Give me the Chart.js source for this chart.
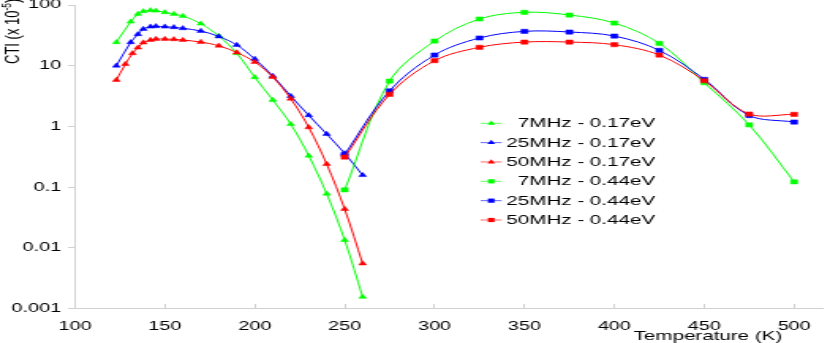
<!DOCTYPE html>
<html><head><meta charset="utf-8">
<script src="https://cdn.jsdelivr.net/npm/chart.js@4.4.1/dist/chart.umd.min.js"></script>
<style>
html,body{margin:0;padding:0;background:#fff;overflow:hidden;}
#wrap{width:525px;height:343px;transform:scaleX(1.580952);transform-origin:0 0;}
canvas{display:block;}
</style></head><body>
<div id="wrap"><canvas id="c" width="525" height="343"></canvas></div>
<script>
// ---- data ----
const tempLow = [123,131,135,138,142,145,150,155,160,170,180,190,200,210,220,230,240,250,260];
const tempLowRed = [123,128,132,135,138,142,145,150,155,160,170,180,190,200,210,220,230,240,250,260];
const tempHigh = [250,275,300,325,350,375,400,425,450,475,500];
const cti7MHz017 = [24.3,53.1,71.1,78.7,81.8,80.5,75.8,71.1,65.9,49.2,30.8,16.0,6.43,2.72,1.09,0.328,0.0775,0.0134,0.00155];
const cti25MHz017 = [9.98,24.3,32.9,40.2,43.9,44.6,43.9,42.9,41.3,37.3,30.3,21.9,12.9,6.76,3.16,1.52,0.747,0.359,0.157];
const cti50MHz017 = [5.8,10.6,16.0,19.8,24.0,26.5,27.5,27.5,27.2,26.5,24.5,21.3,16.5,11.5,6.5,2.85,0.963,0.239,0.0434,0.0055];
const cti7MHz044 = [0.090,5.58,25.5,58.8,75.8,68.4,50.5,23.4,5.24,1.06,0.122];
const cti25MHz044 = [0.346,3.85,15.0,28.6,36.8,35.9,30.8,17.9,5.96,1.51,1.18];
const cti50MHz044 = [0.312,3.37,12.1,20.1,24.5,24.5,22.2,15.0,5.65,1.60,1.58];
const seriesLabels = ['7MHz - 0.17eV','25MHz - 0.17eV','50MHz - 0.17eV','7MHz - 0.44eV','25MHz - 0.44eV','50MHz - 0.44eV'];
const xTickValues = [100,150,200,250,300,350,400,450,500];
const yTickValues = [0.001,0.01,0.1,1,10,100];
const yTickLabels = ['0.001','0.01','0.1','1','10','100'];
const xTitle = 'Temperature (K)';
const yTitleMain = 'CTI (x 10';
const yTitleSup = '-5';
const yTitleEnd = ')';

const GREEN = '#00ff00', BLUE = '#0000ff', RED = '#ff0000';
const FONT = '"Liberation Sans", Arial, Helvetica, sans-serif';

function pts(xs, ys){ return xs.map((x,i)=>({x:x, y:ys[i]})); }
function ds(label, xs, ys, color, style, order){
  return {
    label: label, data: pts(xs, ys), borderColor: color, backgroundColor: color,
    borderWidth: 1, pointStyle: style, pointRadius: style==='triangle'?2.8:3,
    pointBorderWidth: 0.5, pointBorderColor: color, pointBackgroundColor: color,
    tension: 0.35, order: order, fill: false
  };
}

const annot = {
  id: 'annot',
  afterDraw(chart){
    const ctx = chart.ctx;
    ctx.save();
    ctx.fillStyle = '#000';
    // x title
    ctx.font = '13px ' + FONT;
    ctx.textAlign = 'center'; ctx.textBaseline = 'alphabetic';
    ctx.fillText(xTitle, 447.8, 339.5);
    // y title (rotated)
    ctx.save();
    ctx.translate(12.2, 64);
    ctx.rotate(-Math.PI/2);
    ctx.textAlign = 'left'; ctx.textBaseline = 'alphabetic';
    ctx.font = '13px ' + FONT;
    ctx.fillText(yTitleMain, 0, 0);
    let w = ctx.measureText(yTitleMain).width;
    ctx.font = '8.5px ' + FONT;
    ctx.fillText(yTitleSup, w, -5);
    w += ctx.measureText(yTitleSup).width;
    ctx.font = '13px ' + FONT;
    ctx.fillText(yTitleEnd, w, 0);
    ctx.restore();
    // legend
    ctx.font = '13px ' + FONT;
    ctx.textAlign = 'right'; ctx.textBaseline = 'middle';
    chart.data.datasets.forEach((d, i) => {
      const y = 123.3 + 19.34 * i;
      ctx.globalAlpha = 0.6;
      ctx.strokeStyle = d.borderColor; ctx.lineWidth = 1;
      ctx.beginPath(); ctx.moveTo(304, y); ctx.lineTo(317.3, y); ctx.stroke();
      ctx.globalAlpha = 1;
      ctx.fillStyle = d.borderColor;
      const cx = 310.7;
      ctx.beginPath();
      if (d.pointStyle === 'triangle') {
        const r = 2.8;
        ctx.moveTo(cx, y - r);
        ctx.lineTo(cx + r*Math.sin(2*Math.PI/3), y - r*Math.cos(2*Math.PI/3));
        ctx.lineTo(cx + r*Math.sin(4*Math.PI/3), y - r*Math.cos(4*Math.PI/3));
        ctx.closePath();
      } else {
        ctx.rect(cx - 2.1, y - 2.1, 4.2, 4.2);
      }
      ctx.fill();
      ctx.fillStyle = '#000';
      ctx.fillText(d.label, 414.3, y + 0.5);
    });
    ctx.restore();
  }
};

new Chart(document.getElementById('c'), {
  type: 'line',
  data: {
    datasets: [
      ds(seriesLabels[0], tempLow, cti7MHz017, GREEN, 'triangle', 5),
      ds(seriesLabels[1], tempLow, cti25MHz017, BLUE, 'triangle', 4),
      ds(seriesLabels[2], tempLowRed, cti50MHz017, RED, 'triangle', 3),
      ds(seriesLabels[3], tempHigh, cti7MHz044, GREEN, 'rect', 2),
      ds(seriesLabels[4], tempHigh, cti25MHz044, BLUE, 'rect', 1),
      ds(seriesLabels[5], tempHigh, cti50MHz044, RED, 'rect', 0)
    ]
  },
  options: {
    responsive: false, animation: false, devicePixelRatio: 1,
    layout: { padding: { top: 5, left: 0, right: 0, bottom: 0 } },
    plugins: { legend: { display: false }, tooltip: { enabled: false }, title: { display: false } },
    scales: {
      x: {
        type: 'linear', min: 100, max: 516,
        afterBuildTicks: ax => { ax.ticks = xTickValues.map(v => ({ value: v })); },
        afterFit: ax => { ax.height = 34.5; ax.paddingLeft = 0; ax.paddingRight = 0; },
        ticks: { autoSkip: false, maxRotation: 0, color: '#000', padding: 15.5,
          font: { size: 12.5, family: FONT }, callback: v => String(v) },
        grid: { drawOnChartArea: false, drawTicks: true, tickLength: -4.5, color: '#d0d0d0' },
        border: { display: true, color: '#d0d0d0', width: 1 }
      },
      y: {
        type: 'logarithmic', min: 0.001, max: 100,
        afterBuildTicks: ax => { ax.ticks = yTickValues.map(v => ({ value: v })); },
        afterFit: ax => { ax.width = 47.44; ax.paddingTop = 0; ax.paddingBottom = 0; },
        ticks: { autoSkip: false, color: '#000', padding: 4.4,
          font: { size: 12.5, family: FONT },
          callback: (v, i) => yTickLabels[i] },
        grid: { drawOnChartArea: false, drawTicks: true, tickLength: 4.4, color: '#d0d0d0' },
        border: { display: true, color: '#d0d0d0', width: 1 }
      }
    }
  },
  plugins: [annot]
});
</script>
</body></html>
